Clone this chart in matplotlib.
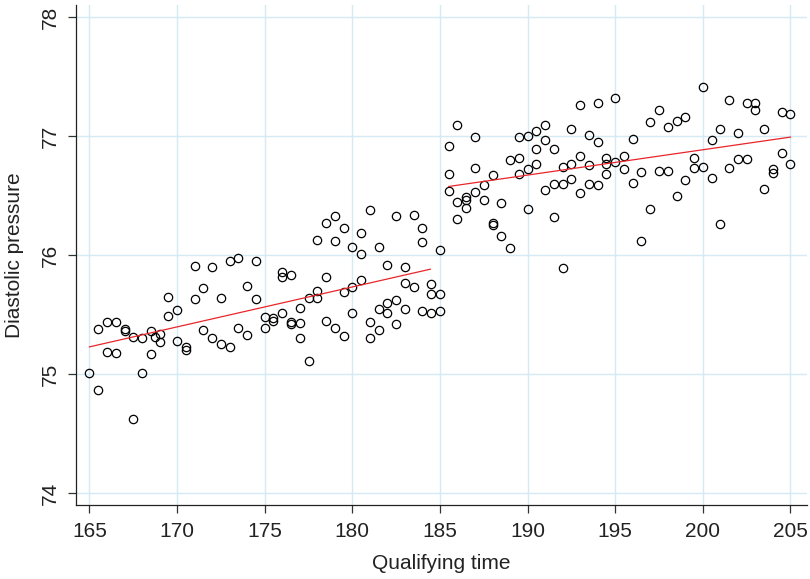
import numpy as np
import matplotlib
matplotlib.use("Agg")
import matplotlib.pyplot as plt

plt.rcParams['font.family'] = ['Liberation Sans', 'DejaVu Sans']

# qualifying time (x) and diastolic pressure (y)
qual_time = [
    165.0,
    165.5, 165.5,
    166.0, 166.0,
    166.5, 166.5,
    167.0, 167.0,
    167.5, 167.5,
    168.0, 168.0,
    168.5, 168.5, 168.75,
    169.0, 169.0,
    169.5, 169.5,
    170.0, 170.0,
    170.5, 170.5,
    171.0, 171.0,
    171.5, 171.5,
    172.0, 172.0,
    172.5, 172.5,
    173.0, 173.0,
    173.5, 173.5,
    174.0, 174.0,
    174.5, 174.5,
    175.0, 175.0,
    175.5, 175.5,
    176.0, 176.0, 176.0,
    176.5, 176.5, 176.5,
    177.0, 177.0, 177.0,
    177.5, 177.5,
    178.0, 178.0, 178.0,
    178.5, 178.5, 178.5,
    179.0, 179.0, 179.0,
    179.5, 179.5, 179.5,
    180.0, 180.0, 180.0,
    180.5, 180.5, 180.5,
    181.0, 181.0, 181.0,
    181.5, 181.5, 181.5,
    182.0, 182.0, 182.0,
    182.5, 182.5, 182.5,
    183.0, 183.0, 183.0,
    183.5, 183.5,
    184.0, 184.0, 184.0,
    184.5, 184.5, 184.5,
    185.0, 185.0, 185.0,
    185.5, 185.5, 185.5,
    186.0, 186.0, 186.0,
    186.5, 186.5, 186.5,
    187.0, 187.0, 187.0,
    187.5, 187.5,
    188.0, 188.0, 188.0,
    188.5, 188.5,
    189.0, 189.0,
    189.5, 189.5, 189.5,
    190.0, 190.0, 190.0,
    190.5, 190.5, 190.5,
    191.0, 191.0, 191.0,
    191.5, 191.5, 191.5,
    192.0, 192.0, 192.0,
    192.5, 192.5, 192.5,
    193.0, 193.0, 193.0,
    193.5, 193.5, 193.5,
    194.0, 194.0, 194.0,
    194.5, 194.5, 194.5,
    195.0, 195.0,
    195.5, 195.5,
    196.0, 196.0,
    196.5, 196.5,
    197.0, 197.0,
    197.5, 197.5,
    198.0, 198.0,
    198.5, 198.5,
    199.0, 199.0,
    199.5, 199.5,
    200.0, 200.0,
    200.5, 200.5,
    201.0, 201.0,
    201.5, 201.5,
    202.0, 202.0,
    202.5, 202.5,
    203.0, 203.0,
    203.5, 203.5,
    204.0, 204.0,
    204.5, 204.5,
    205.0, 205.0,
]
diastolic = [
    75.01,
    74.87, 75.38,
    75.44, 75.19,
    75.44, 75.18,
    75.38, 75.36,
    75.31, 74.62,
    75.01, 75.30,
    75.36, 75.17, 75.31,
    75.34, 75.27,
    75.65, 75.49,
    75.54, 75.28,
    75.23, 75.20,
    75.91, 75.63,
    75.72, 75.37,
    75.90, 75.30,
    75.64, 75.25,
    75.95, 75.23,
    75.98, 75.39,
    75.74, 75.33,
    75.95, 75.63,
    75.48, 75.39,
    75.47, 75.45,
    75.86, 75.82, 75.51,
    75.83, 75.44, 75.42,
    75.56, 75.43, 75.30,
    75.11, 75.64,
    75.70, 75.64, 76.13,
    76.27, 75.82, 75.45,
    76.33, 76.12, 75.39,
    76.23, 75.69, 75.32,
    76.07, 75.73, 75.51,
    76.19, 76.01, 75.79,
    76.38, 75.44, 75.30,
    76.07, 75.55, 75.37,
    75.92, 75.60, 75.51,
    76.33, 75.62, 75.42,
    75.90, 75.77, 75.55,
    76.34, 75.73,
    76.23, 76.11, 75.53,
    75.76, 75.67, 75.51,
    76.04, 75.67, 75.53,
    76.92, 76.68, 76.54,
    77.09, 76.45, 76.30,
    76.49, 76.46, 76.40,
    76.99, 76.73, 76.53,
    76.59, 76.46,
    76.67, 76.27, 76.25,
    76.44, 76.16,
    76.80, 76.06,
    76.99, 76.82, 76.68,
    77.00, 76.72, 76.39,
    77.04, 76.89, 76.77,
    77.09, 76.97, 76.55,
    76.89, 76.60, 76.32,
    76.60, 76.74, 75.89,
    77.06, 76.77, 76.64,
    77.26, 76.83, 76.52,
    77.01, 76.76, 76.60,
    77.28, 76.95, 76.59,
    76.82, 76.77, 76.68,
    77.32, 76.78,
    76.83, 76.72,
    76.98, 76.61,
    76.70, 76.12,
    77.12, 76.39,
    77.22, 76.71,
    77.08, 76.71,
    77.13, 76.50,
    77.16, 76.63,
    76.82, 76.73,
    77.41, 76.74,
    76.65, 76.97,
    77.06, 76.26,
    77.30, 76.73,
    77.03, 76.81,
    77.28, 76.81,
    77.28, 77.22,
    77.06, 76.56,
    76.72, 76.69,
    77.20, 76.86,
    77.19, 76.77,
]

cutoff = 185.0
fit_range_1 = [165.0, 184.45]
fit_range_2 = [185.5, 205.0]

x_ticks = [165, 170, 175, 180, 185, 190, 195, 200, 205]
y_ticks = [74, 75, 76, 77, 78]

x = np.array(qual_time)
y = np.array(diastolic)

fig = plt.figure(figsize=(8.1, 5.79), dpi=100)
ax = fig.add_axes([0.094, 0.127, 0.902, 0.864])

grid_col = '#d4eaf4'
for t in x_ticks:
    ax.axvline(t, color=grid_col, lw=1.0, zorder=0)
for t in y_ticks:
    ax.axhline(t, color=grid_col, lw=1.0, zorder=0)

ax.plot(x, y, linestyle='none', marker='o', ms=6.0, mfc='none',
        mec='black', mew=0.9, zorder=3)

# separate linear fits below and above the cutoff
lo = x <= cutoff
hi = x > cutoff
for mask, rng in [(lo, fit_range_1), (hi, fit_range_2)]:
    b, a = np.polyfit(x[mask], y[mask], 1)
    xs = np.array(rng)
    ax.plot(xs, a + b * xs, color='#e8262a', lw=0.9, zorder=4)

ax.set_xlim(164.24, 205.93)
ax.set_ylim(73.897, 78.10)
ax.set_xticks(x_ticks)
ax.set_yticks(y_ticks)
ax.set_yticklabels([str(t) for t in y_ticks], rotation=90, va='center')

for s in ['top', 'right']:
    ax.spines[s].set_visible(False)
for s in ['left', 'bottom']:
    ax.spines[s].set_color('#222222')
    ax.spines[s].set_linewidth(0.9)

ax.tick_params(axis='both', direction='out', length=6, width=0.9,
               color='#333333', labelsize=15, labelcolor='#222222', pad=6)

ax.set_xlabel('Qualifying time', fontsize=15, color='#222222', labelpad=9)
ax.set_ylabel('Diastolic pressure', fontsize=15, color='#222222', labelpad=12)

fig.savefig('out.png', dpi=100)
